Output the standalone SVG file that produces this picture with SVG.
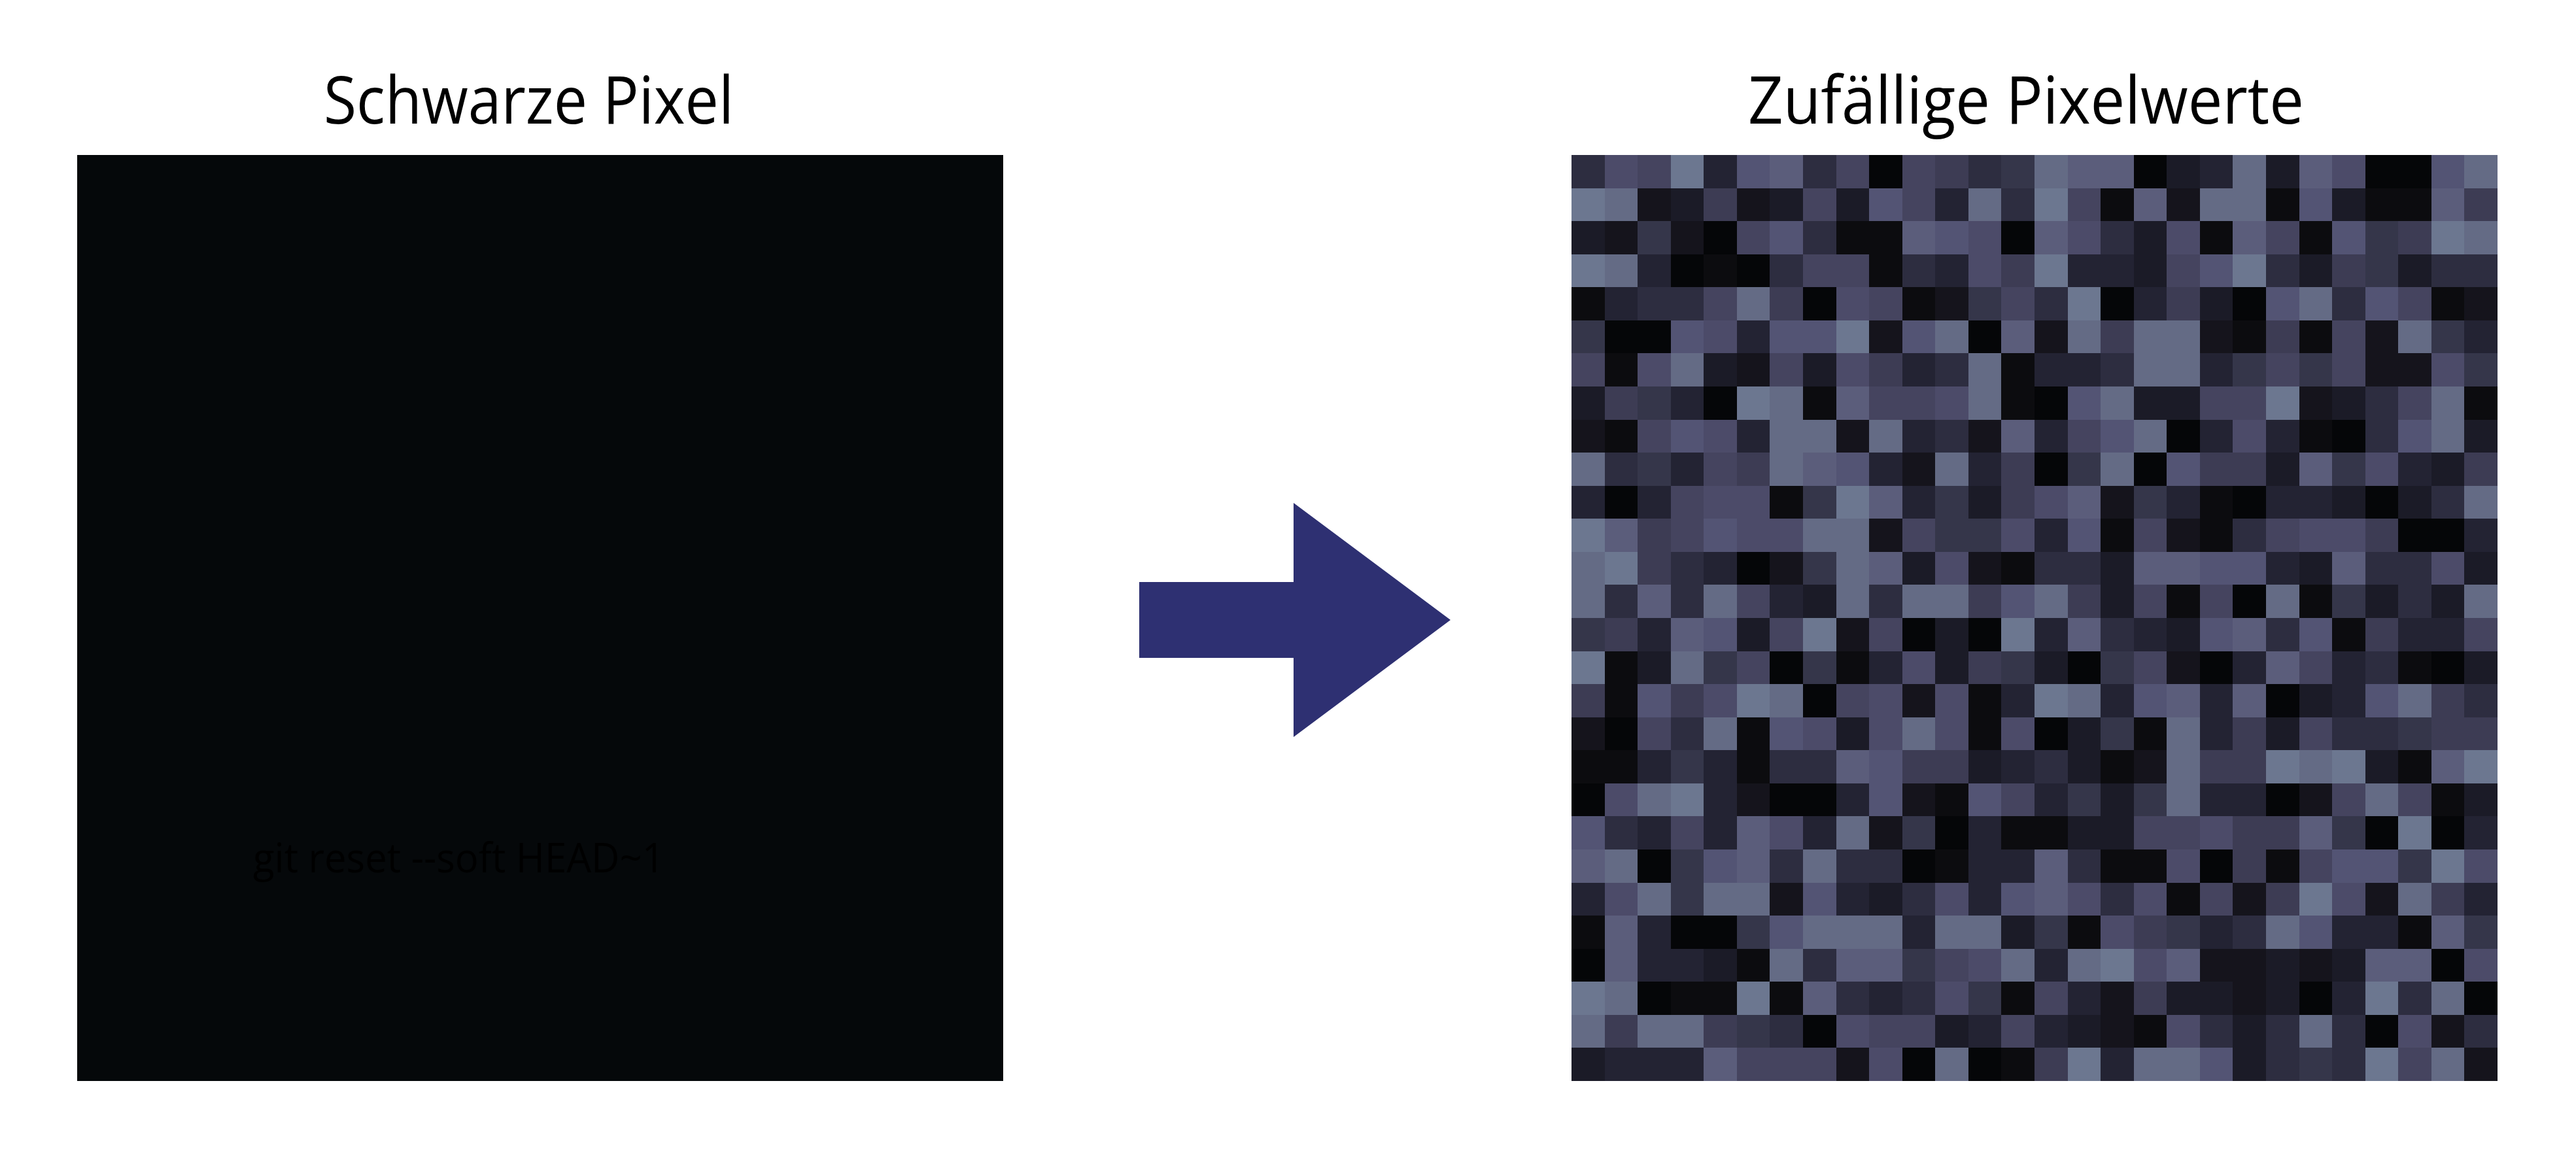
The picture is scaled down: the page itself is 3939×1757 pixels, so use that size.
<svg xmlns="http://www.w3.org/2000/svg" width="3939" height="1757" viewBox="0 0 3939 1757">
<style>
.title{font-family:"Open Sans","Noto Sans","Liberation Sans",sans-serif;font-size:100px;fill:#000}
.hidden{font-family:"Open Sans","Noto Sans","Liberation Sans",sans-serif;font-size:62px;fill:#000}
#pixels rect{width:1px;height:1px}
.k0{fill:#050608}.k1{fill:#0c0c0f}.k2{fill:#15141c}.k3{fill:#1b1b27}.k4{fill:#232333}.k5{fill:#2d2d40}.k6{fill:#35364a}.k7{fill:#3d3c54}.k8{fill:#45445f}.k9{fill:#4c4b69}.kA{fill:#535474}.kB{fill:#5b5d7b}.kC{fill:#646b85}.kD{fill:#6c7790}
</style>
<rect width="3939" height="1757" fill="#fff"/>
<g id="left-panel">
<text class="title" x="495" y="189" textLength="627" lengthAdjust="spacingAndGlyphs">Schwarze Pixel</text>
<rect x="118" y="237" width="1416" height="1416" fill="#05080a"/>
<text class="hidden" x="387" y="1334" textLength="629" lengthAdjust="spacingAndGlyphs">git reset --soft HEAD~1</text>
</g>
<g id="connectors">
<polygon points="1742,890 1978,890 1978,769 2218,948 1978,1127 1978,1006 1742,1006" fill="#2e3072"/>
</g>
<g id="right-panel">
<text class="title" x="2673" y="189" textLength="850" lengthAdjust="spacingAndGlyphs">Zufällige Pixelwerte</text>
<g id="pixels" transform="translate(2403 237) scale(50.571)" shape-rendering="crispEdges">
<g transform="translate(0 0)"><rect x="0" class="k5"/><rect x="1" class="k9"/><rect x="2" class="k8"/><rect x="3" class="kD"/><rect x="4" class="k4"/><rect x="5" class="kA"/><rect x="6" class="kB"/><rect x="7" class="k5"/><rect x="8" class="k8"/><rect x="9" class="k0"/><rect x="10" class="k8"/><rect x="11" class="k7"/><rect x="12" class="k5"/><rect x="13" class="k6"/><rect x="14" class="kC"/><rect x="15" class="kB"/><rect x="16" class="kB"/><rect x="17" class="k0"/><rect x="18" class="k3"/><rect x="19" class="k4"/><rect x="20" class="kC"/><rect x="21" class="k3"/><rect x="22" class="kB"/><rect x="23" class="k9"/><rect x="24" class="k0"/><rect x="25" class="k0"/><rect x="26" class="kA"/><rect x="27" class="kC"/></g>
<g transform="translate(0 1)"><rect x="0" class="kD"/><rect x="1" class="kC"/><rect x="2" class="k2"/><rect x="3" class="k3"/><rect x="4" class="k7"/><rect x="5" class="k2"/><rect x="6" class="k3"/><rect x="7" class="k8"/><rect x="8" class="k3"/><rect x="9" class="kA"/><rect x="10" class="k8"/><rect x="11" class="k4"/><rect x="12" class="kC"/><rect x="13" class="k5"/><rect x="14" class="kD"/><rect x="15" class="k8"/><rect x="16" class="k1"/><rect x="17" class="kB"/><rect x="18" class="k2"/><rect x="19" class="kC"/><rect x="20" class="kC"/><rect x="21" class="k1"/><rect x="22" class="kA"/><rect x="23" class="k3"/><rect x="24" class="k1"/><rect x="25" class="k1"/><rect x="26" class="kB"/><rect x="27" class="k7"/></g>
<g transform="translate(0 2)"><rect x="0" class="k3"/><rect x="1" class="k2"/><rect x="2" class="k6"/><rect x="3" class="k2"/><rect x="4" class="k0"/><rect x="5" class="k8"/><rect x="6" class="kA"/><rect x="7" class="k5"/><rect x="8" class="k1"/><rect x="9" class="k1"/><rect x="10" class="kB"/><rect x="11" class="kA"/><rect x="12" class="k9"/><rect x="13" class="k0"/><rect x="14" class="kB"/><rect x="15" class="k9"/><rect x="16" class="k5"/><rect x="17" class="k3"/><rect x="18" class="k9"/><rect x="19" class="k1"/><rect x="20" class="kB"/><rect x="21" class="k8"/><rect x="22" class="k1"/><rect x="23" class="kA"/><rect x="24" class="k6"/><rect x="25" class="k7"/><rect x="26" class="kD"/><rect x="27" class="kC"/></g>
<g transform="translate(0 3)"><rect x="0" class="kD"/><rect x="1" class="kC"/><rect x="2" class="k4"/><rect x="3" class="k0"/><rect x="4" class="k1"/><rect x="5" class="k0"/><rect x="6" class="k5"/><rect x="7" class="k8"/><rect x="8" class="k8"/><rect x="9" class="k1"/><rect x="10" class="k5"/><rect x="11" class="k4"/><rect x="12" class="k9"/><rect x="13" class="k7"/><rect x="14" class="kD"/><rect x="15" class="k4"/><rect x="16" class="k4"/><rect x="17" class="k3"/><rect x="18" class="k8"/><rect x="19" class="kA"/><rect x="20" class="kD"/><rect x="21" class="k5"/><rect x="22" class="k3"/><rect x="23" class="k7"/><rect x="24" class="k6"/><rect x="25" class="k3"/><rect x="26" class="k5"/><rect x="27" class="k5"/></g>
<g transform="translate(0 4)"><rect x="0" class="k1"/><rect x="1" class="k4"/><rect x="2" class="k5"/><rect x="3" class="k5"/><rect x="4" class="k8"/><rect x="5" class="kC"/><rect x="6" class="k7"/><rect x="7" class="k0"/><rect x="8" class="k9"/><rect x="9" class="k8"/><rect x="10" class="k1"/><rect x="11" class="k2"/><rect x="12" class="k6"/><rect x="13" class="k8"/><rect x="14" class="k5"/><rect x="15" class="kD"/><rect x="16" class="k0"/><rect x="17" class="k4"/><rect x="18" class="k7"/><rect x="19" class="k3"/><rect x="20" class="k0"/><rect x="21" class="kA"/><rect x="22" class="kC"/><rect x="23" class="k5"/><rect x="24" class="kA"/><rect x="25" class="k8"/><rect x="26" class="k1"/><rect x="27" class="k2"/></g>
<g transform="translate(0 5)"><rect x="0" class="k6"/><rect x="1" class="k0"/><rect x="2" class="k0"/><rect x="3" class="kA"/><rect x="4" class="k9"/><rect x="5" class="k4"/><rect x="6" class="kA"/><rect x="7" class="kA"/><rect x="8" class="kD"/><rect x="9" class="k2"/><rect x="10" class="kA"/><rect x="11" class="kC"/><rect x="12" class="k0"/><rect x="13" class="kB"/><rect x="14" class="k2"/><rect x="15" class="kC"/><rect x="16" class="k7"/><rect x="17" class="kC"/><rect x="18" class="kC"/><rect x="19" class="k2"/><rect x="20" class="k1"/><rect x="21" class="k7"/><rect x="22" class="k1"/><rect x="23" class="k8"/><rect x="24" class="k2"/><rect x="25" class="kC"/><rect x="26" class="k6"/><rect x="27" class="k4"/></g>
<g transform="translate(0 6)"><rect x="0" class="k8"/><rect x="1" class="k1"/><rect x="2" class="k9"/><rect x="3" class="kC"/><rect x="4" class="k3"/><rect x="5" class="k2"/><rect x="6" class="k8"/><rect x="7" class="k3"/><rect x="8" class="k9"/><rect x="9" class="k7"/><rect x="10" class="k4"/><rect x="11" class="k5"/><rect x="12" class="kC"/><rect x="13" class="k1"/><rect x="14" class="k4"/><rect x="15" class="k4"/><rect x="16" class="k5"/><rect x="17" class="kC"/><rect x="18" class="kC"/><rect x="19" class="k4"/><rect x="20" class="k6"/><rect x="21" class="k8"/><rect x="22" class="k6"/><rect x="23" class="k8"/><rect x="24" class="k2"/><rect x="25" class="k2"/><rect x="26" class="k9"/><rect x="27" class="k6"/></g>
<g transform="translate(0 7)"><rect x="0" class="k3"/><rect x="1" class="k7"/><rect x="2" class="k6"/><rect x="3" class="k4"/><rect x="4" class="k0"/><rect x="5" class="kD"/><rect x="6" class="kC"/><rect x="7" class="k1"/><rect x="8" class="kB"/><rect x="9" class="k8"/><rect x="10" class="k8"/><rect x="11" class="k9"/><rect x="12" class="kC"/><rect x="13" class="k1"/><rect x="14" class="k0"/><rect x="15" class="kA"/><rect x="16" class="kC"/><rect x="17" class="k3"/><rect x="18" class="k3"/><rect x="19" class="k8"/><rect x="20" class="k8"/><rect x="21" class="kD"/><rect x="22" class="k2"/><rect x="23" class="k3"/><rect x="24" class="k5"/><rect x="25" class="k8"/><rect x="26" class="kC"/><rect x="27" class="k1"/></g>
<g transform="translate(0 8)"><rect x="0" class="k2"/><rect x="1" class="k1"/><rect x="2" class="k8"/><rect x="3" class="kA"/><rect x="4" class="k9"/><rect x="5" class="k4"/><rect x="6" class="kC"/><rect x="7" class="kC"/><rect x="8" class="k2"/><rect x="9" class="kC"/><rect x="10" class="k4"/><rect x="11" class="k5"/><rect x="12" class="k2"/><rect x="13" class="kB"/><rect x="14" class="k4"/><rect x="15" class="k8"/><rect x="16" class="kA"/><rect x="17" class="kC"/><rect x="18" class="k0"/><rect x="19" class="k4"/><rect x="20" class="k9"/><rect x="21" class="k4"/><rect x="22" class="k1"/><rect x="23" class="k0"/><rect x="24" class="k5"/><rect x="25" class="kA"/><rect x="26" class="kC"/><rect x="27" class="k3"/></g>
<g transform="translate(0 9)"><rect x="0" class="kC"/><rect x="1" class="k5"/><rect x="2" class="k6"/><rect x="3" class="k4"/><rect x="4" class="k8"/><rect x="5" class="k7"/><rect x="6" class="kC"/><rect x="7" class="kB"/><rect x="8" class="kA"/><rect x="9" class="k4"/><rect x="10" class="k2"/><rect x="11" class="kC"/><rect x="12" class="k4"/><rect x="13" class="k7"/><rect x="14" class="k0"/><rect x="15" class="k6"/><rect x="16" class="kC"/><rect x="17" class="k0"/><rect x="18" class="kA"/><rect x="19" class="k7"/><rect x="20" class="k7"/><rect x="21" class="k3"/><rect x="22" class="kB"/><rect x="23" class="k6"/><rect x="24" class="k9"/><rect x="25" class="k4"/><rect x="26" class="k3"/><rect x="27" class="k7"/></g>
<g transform="translate(0 10)"><rect x="0" class="k4"/><rect x="1" class="k0"/><rect x="2" class="k4"/><rect x="3" class="k8"/><rect x="4" class="k9"/><rect x="5" class="k9"/><rect x="6" class="k1"/><rect x="7" class="k6"/><rect x="8" class="kD"/><rect x="9" class="kB"/><rect x="10" class="k4"/><rect x="11" class="k6"/><rect x="12" class="k3"/><rect x="13" class="k7"/><rect x="14" class="k9"/><rect x="15" class="kB"/><rect x="16" class="k2"/><rect x="17" class="k6"/><rect x="18" class="k4"/><rect x="19" class="k1"/><rect x="20" class="k0"/><rect x="21" class="k4"/><rect x="22" class="k4"/><rect x="23" class="k3"/><rect x="24" class="k0"/><rect x="25" class="k3"/><rect x="26" class="k5"/><rect x="27" class="kC"/></g>
<g transform="translate(0 11)"><rect x="0" class="kD"/><rect x="1" class="kB"/><rect x="2" class="k7"/><rect x="3" class="k8"/><rect x="4" class="kA"/><rect x="5" class="k9"/><rect x="6" class="k9"/><rect x="7" class="kC"/><rect x="8" class="kC"/><rect x="9" class="k2"/><rect x="10" class="k8"/><rect x="11" class="k6"/><rect x="12" class="k6"/><rect x="13" class="k9"/><rect x="14" class="k4"/><rect x="15" class="kA"/><rect x="16" class="k1"/><rect x="17" class="k8"/><rect x="18" class="k2"/><rect x="19" class="k1"/><rect x="20" class="k5"/><rect x="21" class="k8"/><rect x="22" class="k9"/><rect x="23" class="k9"/><rect x="24" class="k7"/><rect x="25" class="k0"/><rect x="26" class="k0"/><rect x="27" class="k4"/></g>
<g transform="translate(0 12)"><rect x="0" class="kC"/><rect x="1" class="kD"/><rect x="2" class="k7"/><rect x="3" class="k5"/><rect x="4" class="k4"/><rect x="5" class="k0"/><rect x="6" class="k2"/><rect x="7" class="k6"/><rect x="8" class="kC"/><rect x="9" class="kB"/><rect x="10" class="k3"/><rect x="11" class="k9"/><rect x="12" class="k2"/><rect x="13" class="k1"/><rect x="14" class="k5"/><rect x="15" class="k5"/><rect x="16" class="k3"/><rect x="17" class="kB"/><rect x="18" class="kB"/><rect x="19" class="kA"/><rect x="20" class="kA"/><rect x="21" class="k4"/><rect x="22" class="k3"/><rect x="23" class="kB"/><rect x="24" class="k5"/><rect x="25" class="k5"/><rect x="26" class="k9"/><rect x="27" class="k3"/></g>
<g transform="translate(0 13)"><rect x="0" class="kC"/><rect x="1" class="k5"/><rect x="2" class="kB"/><rect x="3" class="k5"/><rect x="4" class="kC"/><rect x="5" class="k8"/><rect x="6" class="k4"/><rect x="7" class="k3"/><rect x="8" class="kC"/><rect x="9" class="k5"/><rect x="10" class="kC"/><rect x="11" class="kC"/><rect x="12" class="k7"/><rect x="13" class="kA"/><rect x="14" class="kC"/><rect x="15" class="k7"/><rect x="16" class="k3"/><rect x="17" class="k8"/><rect x="18" class="k1"/><rect x="19" class="k8"/><rect x="20" class="k0"/><rect x="21" class="kC"/><rect x="22" class="k1"/><rect x="23" class="k6"/><rect x="24" class="k3"/><rect x="25" class="k5"/><rect x="26" class="k3"/><rect x="27" class="kC"/></g>
<g transform="translate(0 14)"><rect x="0" class="k6"/><rect x="1" class="k7"/><rect x="2" class="k4"/><rect x="3" class="kB"/><rect x="4" class="kA"/><rect x="5" class="k3"/><rect x="6" class="k8"/><rect x="7" class="kD"/><rect x="8" class="k2"/><rect x="9" class="k8"/><rect x="10" class="k0"/><rect x="11" class="k3"/><rect x="12" class="k0"/><rect x="13" class="kD"/><rect x="14" class="k4"/><rect x="15" class="kB"/><rect x="16" class="k5"/><rect x="17" class="k4"/><rect x="18" class="k3"/><rect x="19" class="kA"/><rect x="20" class="kB"/><rect x="21" class="k5"/><rect x="22" class="kA"/><rect x="23" class="k1"/><rect x="24" class="k7"/><rect x="25" class="k4"/><rect x="26" class="k4"/><rect x="27" class="k8"/></g>
<g transform="translate(0 15)"><rect x="0" class="kD"/><rect x="1" class="k1"/><rect x="2" class="k3"/><rect x="3" class="kC"/><rect x="4" class="k6"/><rect x="5" class="k8"/><rect x="6" class="k0"/><rect x="7" class="k6"/><rect x="8" class="k1"/><rect x="9" class="k4"/><rect x="10" class="k9"/><rect x="11" class="k3"/><rect x="12" class="k7"/><rect x="13" class="k6"/><rect x="14" class="k3"/><rect x="15" class="k0"/><rect x="16" class="k6"/><rect x="17" class="k8"/><rect x="18" class="k2"/><rect x="19" class="k0"/><rect x="20" class="k4"/><rect x="21" class="kB"/><rect x="22" class="k8"/><rect x="23" class="k4"/><rect x="24" class="k5"/><rect x="25" class="k1"/><rect x="26" class="k0"/><rect x="27" class="k3"/></g>
<g transform="translate(0 16)"><rect x="0" class="k7"/><rect x="1" class="k1"/><rect x="2" class="kA"/><rect x="3" class="k7"/><rect x="4" class="k9"/><rect x="5" class="kD"/><rect x="6" class="kC"/><rect x="7" class="k0"/><rect x="8" class="k8"/><rect x="9" class="k9"/><rect x="10" class="k2"/><rect x="11" class="k9"/><rect x="12" class="k1"/><rect x="13" class="k4"/><rect x="14" class="kD"/><rect x="15" class="kC"/><rect x="16" class="k4"/><rect x="17" class="kA"/><rect x="18" class="kB"/><rect x="19" class="k4"/><rect x="20" class="kB"/><rect x="21" class="k0"/><rect x="22" class="k3"/><rect x="23" class="k4"/><rect x="24" class="kA"/><rect x="25" class="kC"/><rect x="26" class="k7"/><rect x="27" class="k5"/></g>
<g transform="translate(0 17)"><rect x="0" class="k2"/><rect x="1" class="k0"/><rect x="2" class="k8"/><rect x="3" class="k5"/><rect x="4" class="kC"/><rect x="5" class="k1"/><rect x="6" class="kA"/><rect x="7" class="k9"/><rect x="8" class="k3"/><rect x="9" class="k9"/><rect x="10" class="kC"/><rect x="11" class="k9"/><rect x="12" class="k1"/><rect x="13" class="k9"/><rect x="14" class="k0"/><rect x="15" class="k3"/><rect x="16" class="k6"/><rect x="17" class="k1"/><rect x="18" class="kC"/><rect x="19" class="k4"/><rect x="20" class="k7"/><rect x="21" class="k3"/><rect x="22" class="k8"/><rect x="23" class="k5"/><rect x="24" class="k5"/><rect x="25" class="k6"/><rect x="26" class="k7"/><rect x="27" class="k7"/></g>
<g transform="translate(0 18)"><rect x="0" class="k1"/><rect x="1" class="k1"/><rect x="2" class="k4"/><rect x="3" class="k6"/><rect x="4" class="k4"/><rect x="5" class="k1"/><rect x="6" class="k5"/><rect x="7" class="k5"/><rect x="8" class="kB"/><rect x="9" class="kA"/><rect x="10" class="k7"/><rect x="11" class="k7"/><rect x="12" class="k3"/><rect x="13" class="k4"/><rect x="14" class="k5"/><rect x="15" class="k3"/><rect x="16" class="k1"/><rect x="17" class="k2"/><rect x="18" class="kC"/><rect x="19" class="k7"/><rect x="20" class="k7"/><rect x="21" class="kD"/><rect x="22" class="kC"/><rect x="23" class="kD"/><rect x="24" class="k3"/><rect x="25" class="k1"/><rect x="26" class="kB"/><rect x="27" class="kD"/></g>
<g transform="translate(0 19)"><rect x="0" class="k0"/><rect x="1" class="k9"/><rect x="2" class="kC"/><rect x="3" class="kD"/><rect x="4" class="k4"/><rect x="5" class="k2"/><rect x="6" class="k0"/><rect x="7" class="k0"/><rect x="8" class="k4"/><rect x="9" class="kA"/><rect x="10" class="k2"/><rect x="11" class="k1"/><rect x="12" class="kA"/><rect x="13" class="k8"/><rect x="14" class="k4"/><rect x="15" class="k6"/><rect x="16" class="k3"/><rect x="17" class="k6"/><rect x="18" class="kC"/><rect x="19" class="k4"/><rect x="20" class="k4"/><rect x="21" class="k0"/><rect x="22" class="k2"/><rect x="23" class="k8"/><rect x="24" class="kC"/><rect x="25" class="k8"/><rect x="26" class="k1"/><rect x="27" class="k3"/></g>
<g transform="translate(0 20)"><rect x="0" class="kA"/><rect x="1" class="k5"/><rect x="2" class="k4"/><rect x="3" class="k8"/><rect x="4" class="k4"/><rect x="5" class="kB"/><rect x="6" class="k9"/><rect x="7" class="k4"/><rect x="8" class="kC"/><rect x="9" class="k2"/><rect x="10" class="k6"/><rect x="11" class="k0"/><rect x="12" class="k4"/><rect x="13" class="k1"/><rect x="14" class="k1"/><rect x="15" class="k3"/><rect x="16" class="k3"/><rect x="17" class="k8"/><rect x="18" class="k8"/><rect x="19" class="k9"/><rect x="20" class="k7"/><rect x="21" class="k7"/><rect x="22" class="kB"/><rect x="23" class="k6"/><rect x="24" class="k0"/><rect x="25" class="kD"/><rect x="26" class="k0"/><rect x="27" class="k4"/></g>
<g transform="translate(0 21)"><rect x="0" class="kB"/><rect x="1" class="kC"/><rect x="2" class="k0"/><rect x="3" class="k6"/><rect x="4" class="kA"/><rect x="5" class="kB"/><rect x="6" class="k5"/><rect x="7" class="kC"/><rect x="8" class="k5"/><rect x="9" class="k5"/><rect x="10" class="k0"/><rect x="11" class="k1"/><rect x="12" class="k4"/><rect x="13" class="k4"/><rect x="14" class="kB"/><rect x="15" class="k5"/><rect x="16" class="k1"/><rect x="17" class="k1"/><rect x="18" class="k9"/><rect x="19" class="k0"/><rect x="20" class="k7"/><rect x="21" class="k1"/><rect x="22" class="k8"/><rect x="23" class="kA"/><rect x="24" class="kA"/><rect x="25" class="k6"/><rect x="26" class="kD"/><rect x="27" class="k9"/></g>
<g transform="translate(0 22)"><rect x="0" class="k4"/><rect x="1" class="k9"/><rect x="2" class="kC"/><rect x="3" class="k6"/><rect x="4" class="kC"/><rect x="5" class="kC"/><rect x="6" class="k2"/><rect x="7" class="kA"/><rect x="8" class="k4"/><rect x="9" class="k3"/><rect x="10" class="k5"/><rect x="11" class="k9"/><rect x="12" class="k4"/><rect x="13" class="kA"/><rect x="14" class="kB"/><rect x="15" class="k9"/><rect x="16" class="k5"/><rect x="17" class="k9"/><rect x="18" class="k1"/><rect x="19" class="k8"/><rect x="20" class="k2"/><rect x="21" class="k7"/><rect x="22" class="kD"/><rect x="23" class="k9"/><rect x="24" class="k2"/><rect x="25" class="kC"/><rect x="26" class="k7"/><rect x="27" class="k4"/></g>
<g transform="translate(0 23)"><rect x="0" class="k1"/><rect x="1" class="kB"/><rect x="2" class="k4"/><rect x="3" class="k0"/><rect x="4" class="k0"/><rect x="5" class="k6"/><rect x="6" class="kA"/><rect x="7" class="kC"/><rect x="8" class="kC"/><rect x="9" class="kC"/><rect x="10" class="k4"/><rect x="11" class="kC"/><rect x="12" class="kC"/><rect x="13" class="k3"/><rect x="14" class="k6"/><rect x="15" class="k1"/><rect x="16" class="k9"/><rect x="17" class="k7"/><rect x="18" class="k6"/><rect x="19" class="k4"/><rect x="20" class="k5"/><rect x="21" class="kC"/><rect x="22" class="kA"/><rect x="23" class="k4"/><rect x="24" class="k4"/><rect x="25" class="k1"/><rect x="26" class="kB"/><rect x="27" class="k6"/></g>
<g transform="translate(0 24)"><rect x="0" class="k0"/><rect x="1" class="kB"/><rect x="2" class="k4"/><rect x="3" class="k4"/><rect x="4" class="k3"/><rect x="5" class="k1"/><rect x="6" class="kC"/><rect x="7" class="k5"/><rect x="8" class="kB"/><rect x="9" class="kB"/><rect x="10" class="k6"/><rect x="11" class="k8"/><rect x="12" class="k9"/><rect x="13" class="kC"/><rect x="14" class="k4"/><rect x="15" class="kC"/><rect x="16" class="kD"/><rect x="17" class="k9"/><rect x="18" class="kB"/><rect x="19" class="k2"/><rect x="20" class="k2"/><rect x="21" class="k3"/><rect x="22" class="k2"/><rect x="23" class="k3"/><rect x="24" class="kB"/><rect x="25" class="kB"/><rect x="26" class="k0"/><rect x="27" class="k9"/></g>
<g transform="translate(0 25)"><rect x="0" class="kD"/><rect x="1" class="kC"/><rect x="2" class="k0"/><rect x="3" class="k1"/><rect x="4" class="k1"/><rect x="5" class="kD"/><rect x="6" class="k1"/><rect x="7" class="kB"/><rect x="8" class="k5"/><rect x="9" class="k4"/><rect x="10" class="k5"/><rect x="11" class="k9"/><rect x="12" class="k6"/><rect x="13" class="k1"/><rect x="14" class="k8"/><rect x="15" class="k4"/><rect x="16" class="k2"/><rect x="17" class="k7"/><rect x="18" class="k3"/><rect x="19" class="k3"/><rect x="20" class="k2"/><rect x="21" class="k3"/><rect x="22" class="k0"/><rect x="23" class="k4"/><rect x="24" class="kD"/><rect x="25" class="k5"/><rect x="26" class="kC"/><rect x="27" class="k0"/></g>
<g transform="translate(0 26)"><rect x="0" class="kC"/><rect x="1" class="k7"/><rect x="2" class="kC"/><rect x="3" class="kC"/><rect x="4" class="k7"/><rect x="5" class="k6"/><rect x="6" class="k5"/><rect x="7" class="k0"/><rect x="8" class="k9"/><rect x="9" class="k8"/><rect x="10" class="k8"/><rect x="11" class="k3"/><rect x="12" class="k4"/><rect x="13" class="k8"/><rect x="14" class="k4"/><rect x="15" class="k3"/><rect x="16" class="k2"/><rect x="17" class="k1"/><rect x="18" class="k9"/><rect x="19" class="k5"/><rect x="20" class="k3"/><rect x="21" class="k5"/><rect x="22" class="kC"/><rect x="23" class="k5"/><rect x="24" class="k0"/><rect x="25" class="k9"/><rect x="26" class="k2"/><rect x="27" class="k5"/></g>
<g transform="translate(0 27)"><rect x="0" class="k3"/><rect x="1" class="k4"/><rect x="2" class="k4"/><rect x="3" class="k4"/><rect x="4" class="kB"/><rect x="5" class="k8"/><rect x="6" class="k8"/><rect x="7" class="k8"/><rect x="8" class="k2"/><rect x="9" class="k9"/><rect x="10" class="k0"/><rect x="11" class="kC"/><rect x="12" class="k0"/><rect x="13" class="k1"/><rect x="14" class="k7"/><rect x="15" class="kD"/><rect x="16" class="k4"/><rect x="17" class="kC"/><rect x="18" class="kC"/><rect x="19" class="kA"/><rect x="20" class="k3"/><rect x="21" class="k5"/><rect x="22" class="k6"/><rect x="23" class="k5"/><rect x="24" class="kD"/><rect x="25" class="k8"/><rect x="26" class="kC"/><rect x="27" class="k2"/></g>
</g>
</g>
</svg>
